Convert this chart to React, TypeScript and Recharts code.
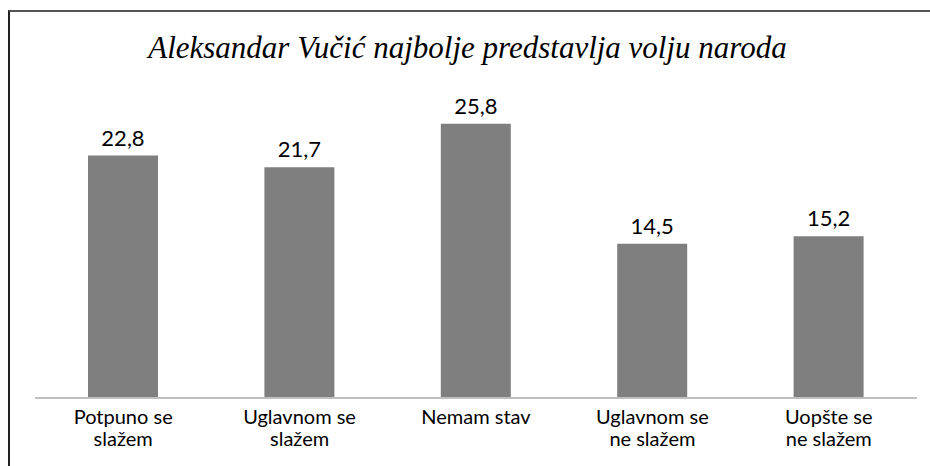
import { Bar, BarChart, LabelList, XAxis, YAxis } from "recharts";

const categories = [
  "Potpuno se slažem",
  "Uglavnom se slažem",
  "Nemam stav",
  "Uglavnom se ne slažem",
  "Uopšte se ne slažem",
];

// how each category label wraps under the axis
const tickLines = [
  ["Potpuno se", "slažem"],
  ["Uglavnom se", "slažem"],
  ["Nemam stav"],
  ["Uglavnom se", "ne slažem"],
  ["Uopšte se", "ne slažem"],
];

const values = [22.8, 21.7, 25.8, 14.5, 15.2];

const title = "Aleksandar Vučić najbolje predstavlja volju naroda";

const chartData = categories.map((name, i) => ({
  name,
  value: values[i],
}));

const labelFont = "Lato, 'Open Sans', sans-serif";

function CategoryTick(props: any) {
  const { x, y, payload } = props;
  const lines = tickLines[payload.index] ?? [payload.value];
  return (
    <text
      x={x}
      y={y}
      textAnchor="middle"
      fill="#000"
      fontSize={20}
      fontFamily={labelFont}
    >
      {lines.map((line: string, i: number) => (
        <tspan key={i} x={x} dy={i === 0 ? 18 : 22}>
          {line}
        </tspan>
      ))}
    </text>
  );
}

export default function App() {
  return (
    <>
      <style>{"html,body{margin:0;padding:0;overflow:hidden;background:#fff}"}</style>
      <div
        style={{
          position: "absolute",
          left: 8,
          top: 10,
          width: 922,
          height: 456,
          borderLeft: "2px solid #222",
          borderTop: "2px solid #555",
          boxSizing: "border-box",
          background: "#fff",
        }}
      >
        <div
          style={{
            position: "absolute",
            left: 0,
            top: 18,
            width: 915,
            textAlign: "center",
            fontFamily: "'Liberation Serif', serif",
            fontStyle: "italic",
            fontSize: 31,
            color: "#000",
          }}
        >
          {title}
        </div>
        <BarChart
          width={920}
          height={446}
          data={chartData}
          margin={{ top: 67, right: 13, left: 25, bottom: 2 }}
          style={{ position: "absolute", left: 0, top: 0 }}
        >
          <XAxis
            dataKey="name"
            height={58}
            interval={0}
            tickLine={false}
            axisLine={{ stroke: "#bfbfbf", strokeWidth: 2 }}
            tick={<CategoryTick />}
          />
          <YAxis hide domain={[0, 30]} />
          <Bar
            dataKey="value"
            fill="#7f7f7f"
            barSize={70}
            isAnimationActive={false}
          >
            <LabelList
              dataKey="value"
              position="top"
              offset={10}
              formatter={(v: any) => String(v).replace(".", ",")}
              fill="#000"
              fontSize={22}
              fontFamily={labelFont}
            />
          </Bar>
        </BarChart>
      </div>
    </>
  );
}
